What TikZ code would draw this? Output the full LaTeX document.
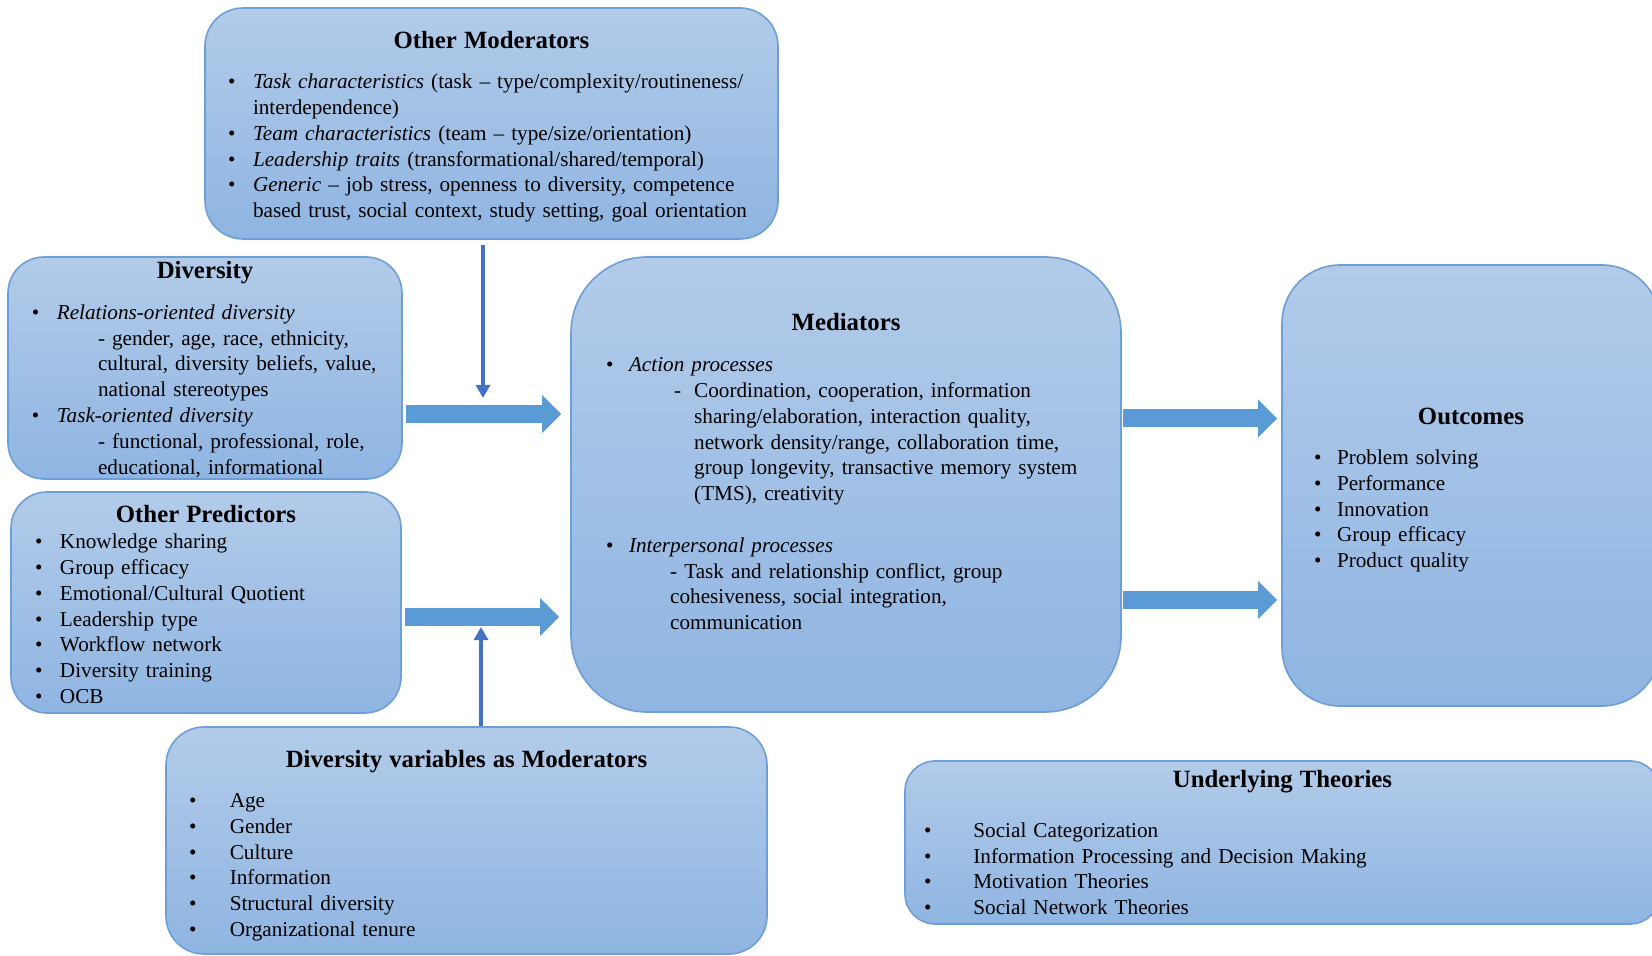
\documentclass[tikz,border=0pt]{standalone}
\usepackage{fontspec}
\setmainfont{Liberation Serif}
\usepackage{xcolor}
\usepackage{tikz}
\usetikzlibrary{shapes.geometric, arrows.meta, positioning}

\definecolor{boxtop}{RGB}{178,203,233}
\definecolor{boxbot}{RGB}{143,181,226}
\definecolor{boxline}{RGB}{110,158,214}
\definecolor{fatblue}{RGB}{91,155,213}
\definecolor{thinblue}{RGB}{68,114,196}

\newlength\bulx
\newlength\txtx
\newlength\subx
\newcommand{\btitle}[2][7.3pt]{{\centering\fontsize{12.4}{14.9}\selectfont\bfseries #2\par}\vspace{#1}}
\newcommand{\bitem}[1]{\hspace*{\bulx}\makebox[\dimexpr\txtx-\bulx\relax][l]{\textbullet}#1}
\newcommand{\bcont}[1]{\hspace*{\txtx}#1}
\newcommand{\bsub}[1]{\hspace*{\subx}#1}
\newcommand{\botpad}[1]{\par\vspace*{#1}\hrule height 0pt\relax}

\begin{document}
\begin{tikzpicture}[x=0.5pt, y=-0.5pt,
  panel/.style={rectangle, rounded corners=#1, draw=boxline, line width=0.8pt, top color=boxtop, bottom color=boxbot, inner sep=0pt, align=left, font=\fontsize{10.6}{12.9}\selectfont},
  blockarr/.style={line width=9pt, fatblue, -{Triangle[width=19pt, length=9.5pt, line width=0pt]}},
  modarr/.style={line width=1.65pt, thinblue, -{Triangle[width=7pt, length=6.5pt]}}]
\useasboundingbox (0,0) rectangle (1652,956);
\clip (0,0) rectangle (1652,956);

\node (mods) [panel=19pt, minimum width=286.5pt, minimum height=115.5pt, text width=286.5pt] at (491.5,123.5) {\setlength\bulx{11.6pt}\setlength\txtx{24pt}%
\btitle{Other Moderators}
\bitem{\textit{Task characteristics} (task -- type/complexity/routineness/}\\
\bcont{interdependence)}\\
\bitem{\textit{Team characteristics} (team -- type/size/orientation)}\\
\bitem{\textit{Leadership traits} (transformational/shared/temporal)}\\
\bitem{\textit{Generic} -- job stress, openness to diversity, competence}\\
\bcont{based trust, social context, study setting, goal orientation}
\botpad{-3.2pt}};

\node (div) [panel=18pt, minimum width=197pt, minimum height=111pt, text width=197pt] at (205,368) {\setlength\bulx{12pt}\setlength\txtx{24.4pt}\setlength\subx{45pt}%
\btitle{Diversity}
\bitem{\textit{Relations-oriented diversity}}\\
\bsub{- gender, age, race, ethnicity,}\\
\bsub{cultural, diversity beliefs, value,}\\
\bsub{national stereotypes}\\
\bitem{\textit{Task-oriented diversity}}\\
\bsub{- functional, professional, role,}\\
\bsub{educational, informational}
\botpad{-1.6pt}};

\node (pred) [panel=18pt, minimum width=195pt, minimum height=110.5pt, text width=195pt] at (206,602.5) {\setlength\bulx{12.1pt}\setlength\txtx{24.5pt}%
\btitle[0pt]{Other Predictors}
\bitem{Knowledge sharing}\\
\bitem{Group efficacy}\\
\bitem{Emotional/Cultural Quotient}\\
\bitem{Leadership type}\\
\bitem{Workflow network}\\
\bitem{Diversity training}\\
\bitem{OCB}
\botpad{-2.1pt}};

\node (med) [panel=38pt, minimum width=275pt, minimum height=227.5pt, text width=275pt] at (846,484.5) {\setlength\bulx{17.6pt}\setlength\txtx{29pt}\setlength\subx{49.6pt}%
\btitle[7.5pt]{Mediators}
\bitem{\textit{Action processes}}\\
\hspace*{51.6pt}\makebox[10pt][l]{-}Coordination, cooperation, information\\
\hspace*{61.6pt}sharing/elaboration, interaction quality,\\
\hspace*{61.6pt}network density/range, collaboration time,\\
\hspace*{61.6pt}group longevity, transactive memory system\\
\hspace*{61.6pt}(TMS), creativity\\[12.9pt]
\bitem{\textit{Interpersonal processes}}\\
\bsub{- Task and relationship conflict, group}\\
\bsub{cohesiveness, social integration,}\\
\bsub{communication}
\botpad{12.6pt}};

\node (out) [panel=29pt, minimum width=189pt, minimum height=220.5pt, text width=189pt] at (1471,485.5) {\setlength\bulx{16.1pt}\setlength\txtx{27.5pt}%
\btitle{Outcomes}
\bitem{Problem solving}\\
\bitem{Performance}\\
\bitem{Innovation}\\
\bitem{Group efficacy}\\
\bitem{Product quality}
\botpad{-4.5pt}};

\node (dvm) [panel=19pt, minimum width=300.5pt, minimum height=113.5pt, text width=300.5pt] at (466.5,840.5) {\setlength\bulx{11.5pt}\setlength\txtx{31.9pt}%
\btitle{Diversity variables as Moderators}
\bitem{Age}\\
\bitem{Gender}\\
\bitem{Culture}\\
\bitem{Information}\\
\bitem{Structural diversity}\\
\bitem{Organizational tenure}
\botpad{-4.9pt}};

\node (thy) [panel=15pt, minimum width=377.5pt, minimum height=81.5pt, text width=377.5pt] at (1282.5,842.5) {\setlength\bulx{9.6pt}\setlength\txtx{34.2pt}%
\btitle[12pt]{Underlying Theories}
\bitem{Social Categorization}\\
\bitem{Information Processing and Decision Making}\\
\bitem{Motivation Theories}\\
\bitem{Social Network Theories}};

\coordinate (modjoin) at (483,398);
\coordinate (dvmjoin) at (481,627);

\draw[blockarr, shorten <=1.5pt, shorten >=4.5pt] (div.east |- 0,414) -- (med.west |- 0,414);
\draw[blockarr, shorten <=1.5pt, shorten >=5.5pt] (pred.east |- 0,617) -- (med.west |- 0,617);
\draw[blockarr, shorten <=0.5pt, shorten >=2pt] (med.east |- 0,418.5) -- (out.west |- 0,418.5);
\draw[blockarr, shorten <=0.5pt, shorten >=2pt] (med.east |- 0,600) -- (out.west |- 0,600);
\draw[modarr, shorten <=2.5pt] (mods.south -| modjoin) -- (modjoin);
\draw[modarr] (dvm.north -| dvmjoin) -- (dvmjoin);
\end{tikzpicture}
\end{document}
